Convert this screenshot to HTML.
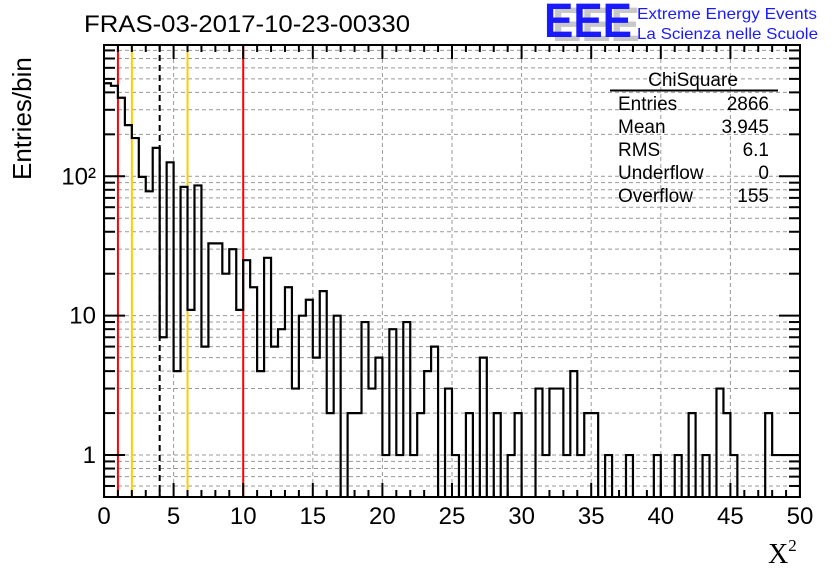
<!DOCTYPE html>
<html><head><meta charset="utf-8"><style>
body{margin:0;background:#fff}
svg{display:block;font-family:"Liberation Sans",Arial,sans-serif}
</style></head><body>
<svg id="chart" width="836" height="572" viewBox="0 0 836 572" xmlns="http://www.w3.org/2000/svg">
<rect width="836" height="572" fill="#fff"/>
<text x="84" y="32" font-size="24" textLength="326" lengthAdjust="spacingAndGlyphs">FRAS-03-2017-10-23-00330</text>
<g>
<text x="552" y="41" font-size="48" font-weight="bold" fill="#c8c8c8" textLength="88" lengthAdjust="spacingAndGlyphs">EEE</text>
<text x="544" y="37" font-size="48" font-weight="bold" fill="#1a1aff" textLength="88" lengthAdjust="spacingAndGlyphs">EEE</text>
<text x="637" y="19" font-size="16" fill="#1a1aff" textLength="180" lengthAdjust="spacingAndGlyphs">Extreme Energy Events</text>
<text x="637" y="39" font-size="16" fill="#1a1aff" textLength="181" lengthAdjust="spacingAndGlyphs">La Scienza nelle Scuole</text>
</g>
<g id="grid"></g>
<g id="marks"></g>
<g id="axes"></g>
<g font-size="19">
<text x="693" y="86" text-anchor="middle">ChiSquare</text>
<line x1="610" y1="90.5" x2="778" y2="90.5" stroke="#000" stroke-width="2"/>
<text x="618" y="110">Entries</text><text x="769" y="110" text-anchor="end">2866</text>
<text x="618" y="133">Mean</text><text x="769" y="133" text-anchor="end">3.945</text>
<text x="618" y="156">RMS</text><text x="769" y="156" text-anchor="end">6.1</text>
<text x="618" y="179">Underflow</text><text x="769" y="179" text-anchor="end">0</text>
<text x="618" y="202">Overflow</text><text x="769" y="202" text-anchor="end">155</text>
</g>
<text transform="translate(31,180) rotate(-90)" font-size="26">Entries/bin</text>
<text x="768" y="563" font-size="28" font-family="Liberation Serif,serif">X<tspan font-size="17" dy="-12">2</tspan></text>
</svg>
<script>
const binWidth = 0.5;
const counts = [465,446,366,233,188,99,78,160,7,126,4,84,11,86,6,33,33,20,30,11,
25,16,4,26,6,8,16,3,10,13,5,15,2,10,0,2,2,9,3,5,
1,8,1,9,1,2,4,6,0,3,1,0,2,0,5,0,2,0,1,2,
0,0,3,1,3,3,1,4,1,2,2,0,1,0,0,1,0,0,0,1,
0,0,1,0,2,0,1,0,3,2,1,0,0,0,0,2,1,1,1,1];
const xTicks = [0,5,10,15,20,25,30,35,40,45,50];
const yTickLabels = ["1","10","10²"];
const yTickValues = [1,10,100];
const vlineRed = [1,10];
const vlineYellow = [2,6];
const vlineDash = [4];

const L=104,R=800,T=45,B=497, xMin=0,xMax=50, yMin=0.5,yMax=875;
const NS="http://www.w3.org/2000/svg";
const X=v=>L+(v-xMin)/(xMax-xMin)*(R-L);
const Y=v=>{ if(v<=0) return B+6; return B-(Math.log10(v)-Math.log10(yMin))/(Math.log10(yMax)-Math.log10(yMin))*(B-T);};
function mk(tag,attrs,parent){const e=document.createElementNS(NS,tag);for(const k in attrs)e.setAttribute(k,attrs[k]);parent.appendChild(e);return e;}
const grid=document.getElementById('grid'),marks=document.getElementById('marks'),axes=document.getElementById('axes');
for(let d=0.1;d<=100;d*=10){for(let m=1;m<=9;m++){const v=Math.round(d*m*1000)/1000;if(v<yMin||v>yMax)continue;
 const g=mk('line',{x1:L,x2:R,y1:Y(v),y2:Y(v),stroke:'#999','stroke-dasharray':'4,3','stroke-width':1},grid);
 
 }}
xTicks.forEach(t=>{const g=mk('line',{x1:X(t),x2:X(t),y1:T,y2:B,stroke:'#999','stroke-dasharray':'4,3','stroke-width':1},grid);
 
 });
function vl(vals,color,dash,name){vals.forEach(v=>{const a={x1:X(v),x2:X(v),y1:T,y2:B,stroke:color,'stroke-width':2};if(dash)a['stroke-dasharray']=dash;
 const e=mk('line',a,marks);
 
 });}
vl(vlineRed,'#ff0000',null,'red-cut-line');
vl(vlineYellow,'#ffcc00',null,'yellow-cut-line');
vl(vlineDash,'#000','6,4','mean-dashed-line');
let d='M'+X(0)+','+B;
counts.forEach((c,i)=>{const y=Y(c);d+=' L'+X(i*binWidth)+','+y+' L'+X((i+1)*binWidth)+','+y;});
d+=' L'+X(counts.length*binWidth)+','+B;
const clip=mk('clipPath',{id:'cp'},marks);mk('rect',{x:L,y:T,width:R-L,height:B-T},clip);
const h=mk('path',{d:d,fill:'none',stroke:'#000','stroke-width':2.2,'clip-path':'url(#cp)'},marks);


const fr=mk('rect',{x:L,y:T,width:R-L,height:B-T,fill:'none',stroke:'#000','stroke-width':2},axes);


for(let v=0;v<=50;v+=1){const maj=v%5===0,len=maj?14:7;
 mk('line',{x1:X(v),x2:X(v),y1:B,y2:B-len,stroke:'#000','stroke-width':2},axes);
 mk('line',{x1:X(v),x2:X(v),y1:T,y2:T+len,stroke:'#000','stroke-width':2},axes);}
xTicks.forEach(t=>{const e=mk('text',{x:X(t),y:B+27,'font-size':24,'text-anchor':'middle'},axes);e.textContent=t;
 
 });
for(let d=0.1;d<=100;d*=10){for(let m=1;m<=9;m++){const v=Math.round(d*m*1000)/1000;if(v<yMin||v>yMax)continue;const len=m===1?21:11;
 mk('line',{x1:L,x2:L+len,y1:Y(v),y2:Y(v),stroke:'#000','stroke-width':2},axes);
 mk('line',{x1:R,x2:R-len,y1:Y(v),y2:Y(v),stroke:'#000','stroke-width':2},axes);}}
yTickValues.forEach((v,i)=>{const e=mk('text',{x:L-8,y:Y(v)+8,'font-size':24,'text-anchor':'end'},axes);e.textContent=yTickLabels[i];
 
 });
</script>
</body></html>
